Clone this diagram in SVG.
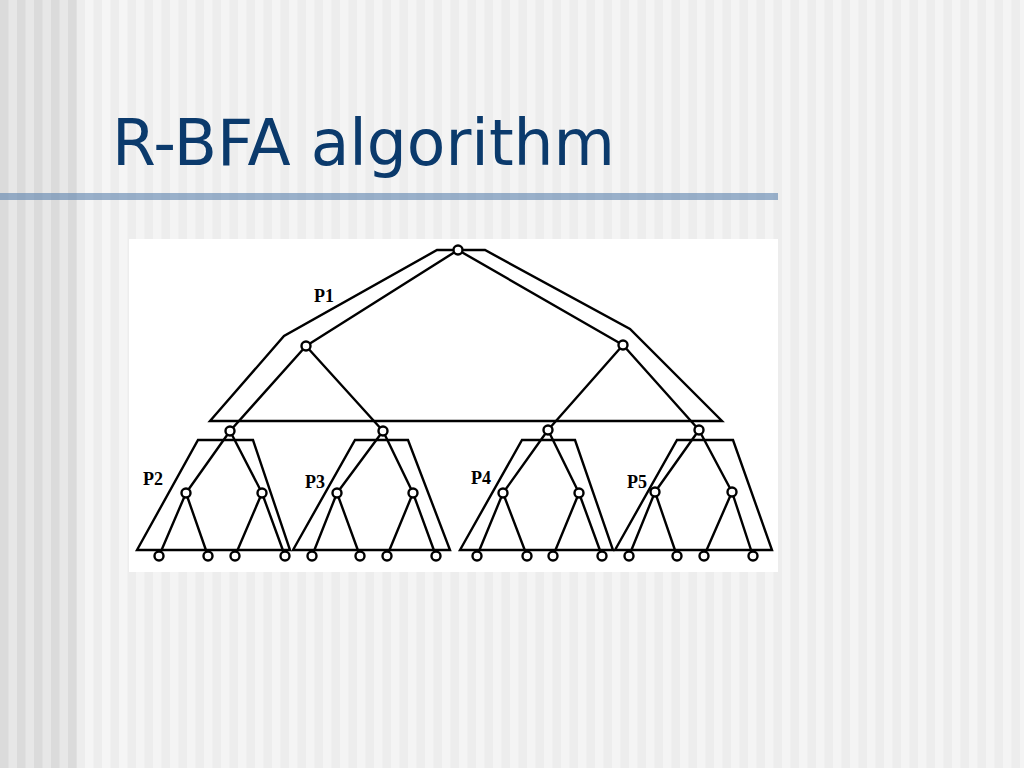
<svg xmlns="http://www.w3.org/2000/svg" width="1024" height="768" viewBox="0 0 1024 768">
<defs>
<pattern id="stripeDark" width="17" height="10" patternUnits="userSpaceOnUse">
<rect width="17" height="10" fill="#E7E7E7"/><rect width="8.5" height="10" fill="#DBDBDB"/>
</pattern>
<pattern id="stripeMid" width="17" height="10" patternUnits="userSpaceOnUse">
<rect width="17" height="10" fill="#EDEDED"/><rect width="8.5" height="10" fill="#F5F5F5"/>
</pattern>
<pattern id="stripeLight" width="17" height="10" patternUnits="userSpaceOnUse">
<rect width="17" height="10" fill="#EDEDED"/><rect width="8.5" height="10" fill="#F4F4F4"/>
</pattern>
<style>
.edge{stroke:#000;stroke-width:2.4;fill:none;stroke-linecap:round}
.part{stroke:#000;stroke-width:2.4;fill:none;stroke-linejoin:miter}
.node{fill:#fff;stroke:#000;stroke-width:2.4}
.lab{font-family:"Liberation Serif",serif;font-weight:bold;font-size:18px;fill:#000}
.title{font-family:"DejaVu Sans",Verdana,sans-serif;font-size:64px;fill:#0B3A6C}
</style>
</defs>
<rect width="1024" height="768" fill="url(#stripeLight)"/>
<rect x="0" y="0" width="77" height="768" fill="url(#stripeDark)"/>
<rect x="77" y="0" width="52" height="768" fill="url(#stripeMid)"/>
<text class="title" x="112" y="165" textLength="503" lengthAdjust="spacingAndGlyphs">R-BFA algorithm</text>
<rect x="0" y="193" width="778" height="7" fill="#5B82AD" fill-opacity="0.6"/>
<rect x="129" y="239" width="649" height="333" fill="#fff"/>

<g id="partitions">
<polygon id="P1-region" class="part" points="210,421 284,336 437,250 485,250 630,329 722,421"/>
<polygon id="P2-region" class="part" points="137,550 198,440 253,440 290,550"/>
<polygon id="P3-region" class="part" points="293,550 355,440 408,440 450,550"/>
<polygon id="P4-region" class="part" points="460,550 522,440 575,440 613,550"/>
<polygon id="P5-region" class="part" points="615,550 677,440 733,440 772,550"/>
</g>

<g id="connectors">
<line class="edge" x1="458" y1="250" x2="306" y2="346"/>
<line class="edge" x1="458" y1="250" x2="623" y2="345"/>
<line class="edge" x1="306" y1="346" x2="230" y2="431"/>
<line class="edge" x1="306" y1="346" x2="383" y2="431"/>
<line class="edge" x1="623" y1="345" x2="548" y2="430"/>
<line class="edge" x1="623" y1="345" x2="699" y2="430"/>
<line class="edge" x1="230" y1="431" x2="186" y2="493"/>
<line class="edge" x1="230" y1="431" x2="262" y2="493"/>
<line class="edge" x1="383" y1="431" x2="337" y2="493"/>
<line class="edge" x1="383" y1="431" x2="413" y2="493"/>
<line class="edge" x1="548" y1="430" x2="503" y2="493"/>
<line class="edge" x1="548" y1="430" x2="579" y2="493"/>
<line class="edge" x1="699" y1="430" x2="655" y2="492"/>
<line class="edge" x1="699" y1="430" x2="732" y2="492"/>
<line class="edge" x1="186" y1="493" x2="159" y2="556"/>
<line class="edge" x1="186" y1="493" x2="208" y2="556"/>
<line class="edge" x1="262" y1="493" x2="235" y2="556"/>
<line class="edge" x1="262" y1="493" x2="285" y2="556"/>
<line class="edge" x1="337" y1="493" x2="312" y2="556"/>
<line class="edge" x1="337" y1="493" x2="360" y2="556"/>
<line class="edge" x1="413" y1="493" x2="387" y2="556"/>
<line class="edge" x1="413" y1="493" x2="436" y2="556"/>
<line class="edge" x1="503" y1="493" x2="477" y2="556"/>
<line class="edge" x1="503" y1="493" x2="527" y2="556"/>
<line class="edge" x1="579" y1="493" x2="553" y2="556"/>
<line class="edge" x1="579" y1="493" x2="602" y2="556"/>
<line class="edge" x1="655" y1="492" x2="629" y2="556"/>
<line class="edge" x1="655" y1="492" x2="677" y2="556"/>
<line class="edge" x1="732" y1="492" x2="704" y2="556"/>
<line class="edge" x1="732" y1="492" x2="753" y2="556"/>
</g>

<g id="nodes">
<g id="n-root"><circle class="node" cx="458" cy="250" r="4.5"/></g>
<g id="n-l"><circle class="node" cx="306" cy="346" r="4.5"/></g>
<g id="n-r"><circle class="node" cx="623" cy="345" r="4.5"/></g>
<g id="n-a"><circle class="node" cx="230" cy="431" r="4.5"/></g>
<g id="n-b"><circle class="node" cx="383" cy="431" r="4.5"/></g>
<g id="n-c"><circle class="node" cx="548" cy="430" r="4.5"/></g>
<g id="n-d"><circle class="node" cx="699" cy="430" r="4.5"/></g>
<g id="n-a1"><circle class="node" cx="186" cy="493" r="4.5"/></g>
<g id="n-a2"><circle class="node" cx="262" cy="493" r="4.5"/></g>
<g id="n-b1"><circle class="node" cx="337" cy="493" r="4.5"/></g>
<g id="n-b2"><circle class="node" cx="413" cy="493" r="4.5"/></g>
<g id="n-c1"><circle class="node" cx="503" cy="493" r="4.5"/></g>
<g id="n-c2"><circle class="node" cx="579" cy="493" r="4.5"/></g>
<g id="n-d1"><circle class="node" cx="655" cy="492" r="4.5"/></g>
<g id="n-d2"><circle class="node" cx="732" cy="492" r="4.5"/></g>
<g id="leaves-P2"><circle class="node" cx="159" cy="556" r="4.5"/><circle class="node" cx="208" cy="556" r="4.5"/><circle class="node" cx="235" cy="556" r="4.5"/><circle class="node" cx="285" cy="556" r="4.5"/></g>
<g id="leaves-P3"><circle class="node" cx="312" cy="556" r="4.5"/><circle class="node" cx="360" cy="556" r="4.5"/><circle class="node" cx="387" cy="556" r="4.5"/><circle class="node" cx="436" cy="556" r="4.5"/></g>
<g id="leaves-P4"><circle class="node" cx="477" cy="556" r="4.5"/><circle class="node" cx="527" cy="556" r="4.5"/><circle class="node" cx="553" cy="556" r="4.5"/><circle class="node" cx="602" cy="556" r="4.5"/></g>
<g id="leaves-P5"><circle class="node" cx="629" cy="556" r="4.5"/><circle class="node" cx="677" cy="556" r="4.5"/><circle class="node" cx="704" cy="556" r="4.5"/><circle class="node" cx="753" cy="556" r="4.5"/></g>
</g>

<g id="labels">
<text class="lab" x="314" y="302">P1</text>
<text class="lab" x="143" y="485">P2</text>
<text class="lab" x="305" y="488">P3</text>
<text class="lab" x="471" y="484">P4</text>
<text class="lab" x="627" y="488">P5</text>
</g>
</svg>
